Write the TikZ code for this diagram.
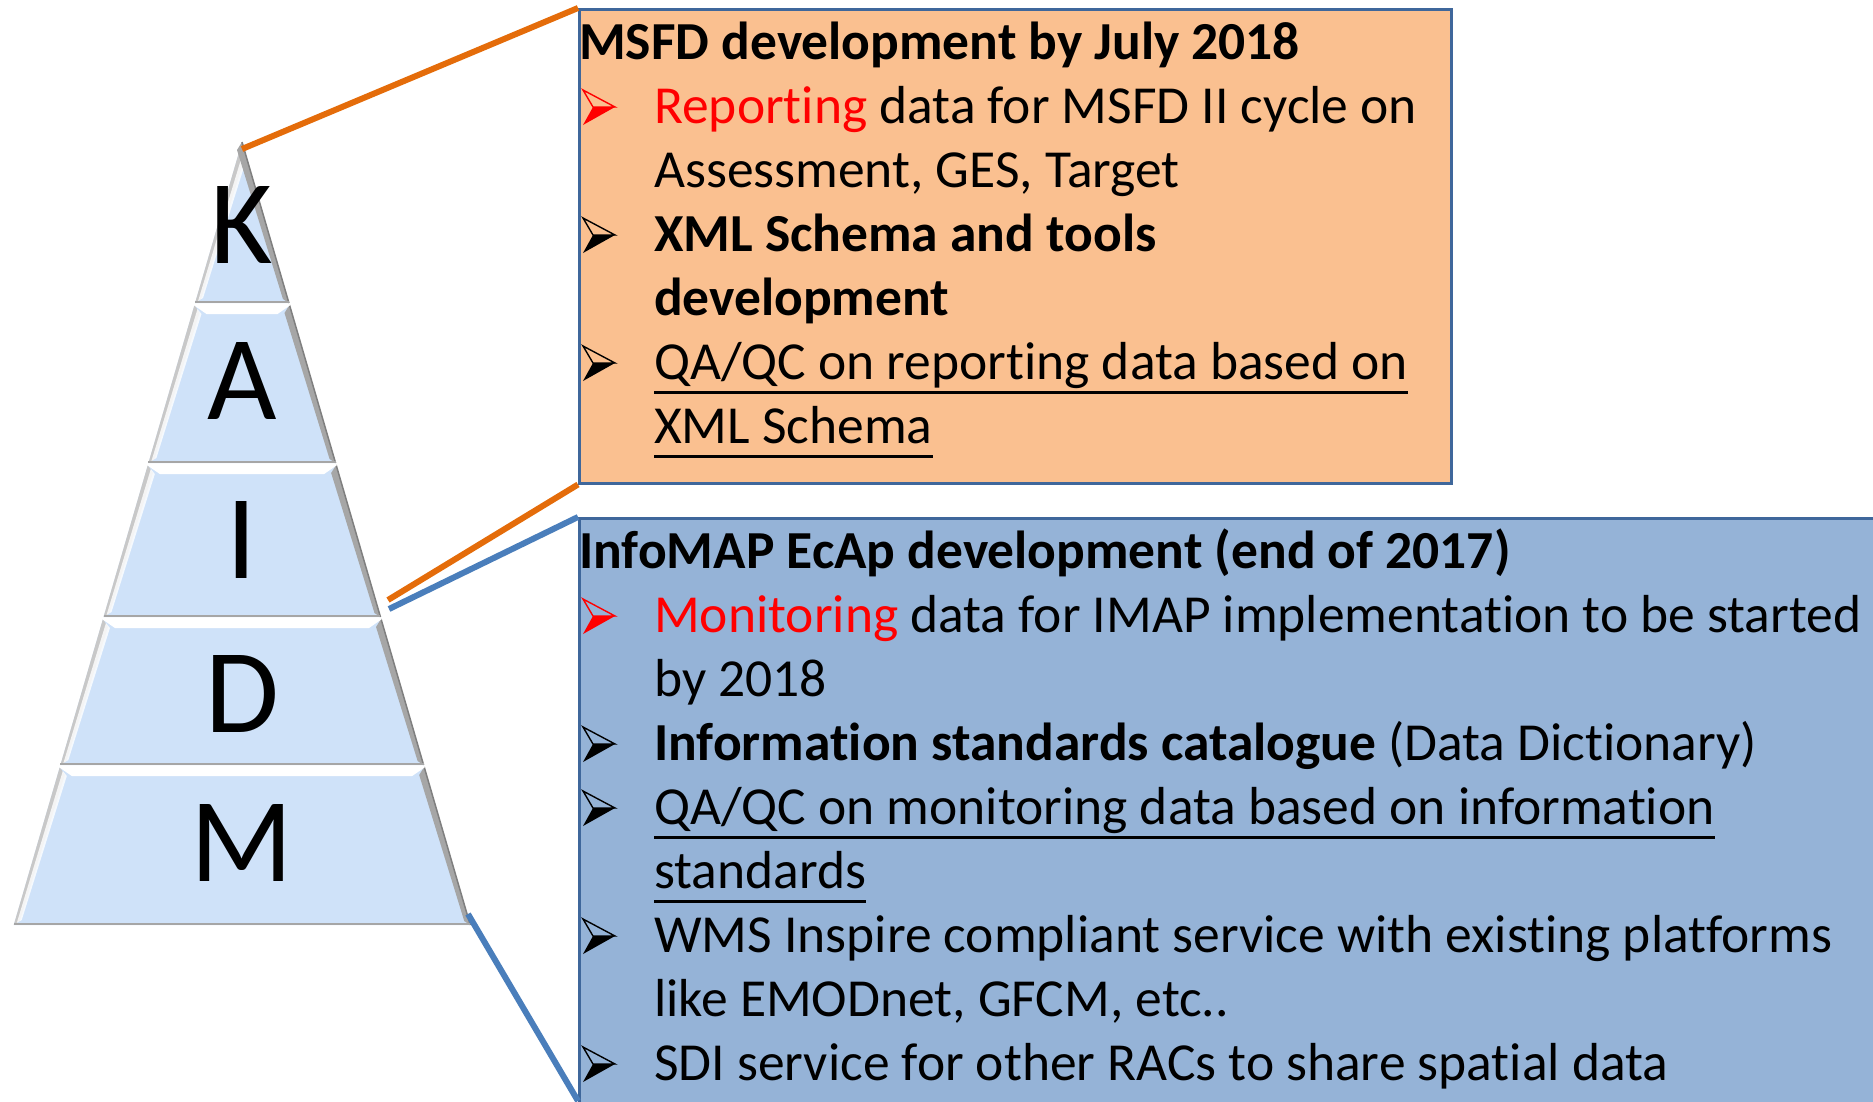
\documentclass[tikz,border=0pt]{standalone}
\usepackage{fontspec}
\setmainfont{Carlito}[Ligatures={NoCommon}]
\definecolor{orfill}{HTML}{FAC090}
\definecolor{blfill}{HTML}{95B3D7}
\definecolor{boxline}{HTML}{3F679B}
\definecolor{orline}{HTML}{E46C0A}
\definecolor{blline}{HTML}{4A7EBB}
\definecolor{pyrfill}{HTML}{CFE2F9}
\definecolor{bevdark}{HTML}{7F7F7F}
\definecolor{bevmid}{HTML}{A6A6A6}
\definecolor{bevlight}{HTML}{C8C8C8}
\newcommand\arrowbul[3]{%
  \begin{scope}[shift={(#1,#2)}]
    \fill[#3] (10,-16) -- (32,-16) -- (0,2) -- cycle;
    \draw[#3, line width=1.4pt, line join=miter] (0,-33) -- (32,-16) -- (10,-16) -- cycle;
  \end{scope}}
\begin{document}
\begin{tikzpicture}[x=1pt,y=-1pt,
  txt/.style={anchor=base west, inner sep=0pt, font=\fontsize{53.5}{64}\selectfont, text=black},
  ttl/.style={txt, font=\fontsize{53.5}{64}\selectfont\bfseries},
  ul/.style={line width=3pt, black},
  conO/.style={line width=6pt, draw=orline},
  conB/.style={line width=6pt, draw=blline},
  letter/.style={font=\fontsize{120}{120}\selectfont, anchor=base, inner sep=0pt, text=black},
  orbox/.style={draw=boxline, line width=2.5pt, fill=orfill, anchor=north west, inner sep=0pt},
  blbox/.style={draw=boxline, line width=2.5pt, fill=blfill, anchor=north west, inner sep=0pt}]
\useasboundingbox (0,0) rectangle (1873,1101);
\clip (0,0) rectangle (1873,1101);

% ---------- pyramid ----------
\foreach \yt/\yb/\nm/\bl in {142/303/K/263, 305/463/A/419, 465/617/I/578, 619/765/D/732, 767/925/M/881}{
  \pgfmathsetmacro\wt{(\yt-142)*0.2915}
  \pgfmathsetmacro\wb{(\yb-142)*0.2915}
  \fill[pyrfill] ({242-\wt},\yt) -- ({242+\wt},\yt) -- ({242+\wb},\yb) -- ({242-\wb},\yb) -- cycle;
  % left bevel
  \fill[bevlight] ({242-\wt},\yt) -- ({242-\wb},\yb) -- ({242-\wb+6},{\yb-4}) -- ({242-\wt+5},{\yt+8}) -- cycle;
  \fill[white, opacity=0.8] ({242-\wt+3},{\yt+4}) -- ({242-\wb+3},{\yb-2}) -- ({242-\wb+8},{\yb-5}) -- ({242-\wt+7},{\yt+9}) -- cycle;
  % right bevel
  \fill[bevmid] ({242+\wt},\yt) -- ({242+\wb},\yb) -- ({242+\wb-6},{\yb-4}) -- ({242+\wt-5},{\yt+8}) -- cycle;
  \draw[bevdark, line width=1.5pt] ({242+\wt},\yt) -- ({242+\wb},\yb);
  % bottom edge
  \draw[bevmid, line width=2pt] ({242-\wb},{\yb-1}) -- ({242+\wb},{\yb-1});
  \node[letter] (L\nm) at (242,\bl) {\nm};
}
% top highlights (not for the apex layer)
\foreach \yt in {305,465,619,767}{
  \pgfmathsetmacro\wt{(\yt-142)*0.2915}
  \fill[white] ({242-\wt-1},\yt) -- ({242+\wt+1},\yt) -- ({242+\wt-12},{\yt+9}) -- ({242-\wt+12},{\yt+9}) -- cycle;
}

\coordinate (apex) at (242,149);
\coordinate (idO) at (388,600);
\coordinate (idB) at (389,609);
\coordinate (baseR) at (468,914);

% ---------- boxes ----------
\node[orbox, minimum width=872pt, minimum height=474pt] (msfd) at (578,8) {};
\node[blbox, minimum width=1330pt, minimum height=620pt] (infomap) at (578,517) {};
\coordinate (blueBL) at (578,1101);

% ---------- connectors ----------
\draw[conO] (apex) -- (msfd.north west);
\draw[conO] (idO) -- (msfd.south west);
\draw[conB] (idB) -- (infomap.north west);
\draw[conB] (baseR) -- (blueBL);

% ---------- orange box text ----------
\node[ttl] (o0) at (579,59) {MSFD development by July 2018};
\arrowbul{583}{123}{red}
\node[txt] (o1) at (654,123) {\textcolor{red}{Reporting} data for MSFD II cycle on};
\node[txt] (o2) at (654,187) {Assessment, GES, Target};
\arrowbul{583}{251}{black}
\node[ttl] (o3) at (654,251) {XML Schema and tools};
\node[ttl] (o4) at (654,315) {development};
\arrowbul{583}{379}{black}
\node[txt] (o5) at (654,379) {QA/QC on reporting data based on};
\draw[ul] ([yshift=-13pt]o5.base west) -- ([yshift=-13pt]o5.base east);
\node[txt] (o6) at (654,443) {XML Schema};
\draw[ul] ([yshift=-13pt]o6.base west) -- ([yshift=-13pt]o6.base east);

% ---------- blue box text ----------
\node[ttl] (b0) at (579,568) {InfoMAP EcAp development (end of 2017)};
\arrowbul{583}{632}{red}
\node[txt] (b1) at (654,632) {\textcolor{red}{Monitoring} data for IMAP implementation to be started};
\node[txt] (b2) at (654,696) {by 2018};
\arrowbul{583}{760}{black}
\node[txt] (b3) at (654,760) {\textbf{Information standards catalogue} (Data Dictionary)};
\arrowbul{583}{824}{black}
\node[txt] (b4) at (654,824) {QA/QC on monitoring data based on information};
\draw[ul] ([yshift=-13pt]b4.base west) -- ([yshift=-13pt]b4.base east);
\node[txt] (b5) at (654,888) {standards};
\draw[ul] ([yshift=-13pt]b5.base west) -- ([yshift=-13pt]b5.base east);
\arrowbul{583}{952}{black}
\node[txt] (b6) at (654,952) {WMS Inspire compliant service with existing platforms};
\node[txt] (b7) at (654,1016) {like EMODnet, GFCM, etc..};
\arrowbul{583}{1080}{black}
\node[txt] (b8) at (654,1080) {SDI service for other RACs to share spatial data};
\end{tikzpicture}
\end{document}
